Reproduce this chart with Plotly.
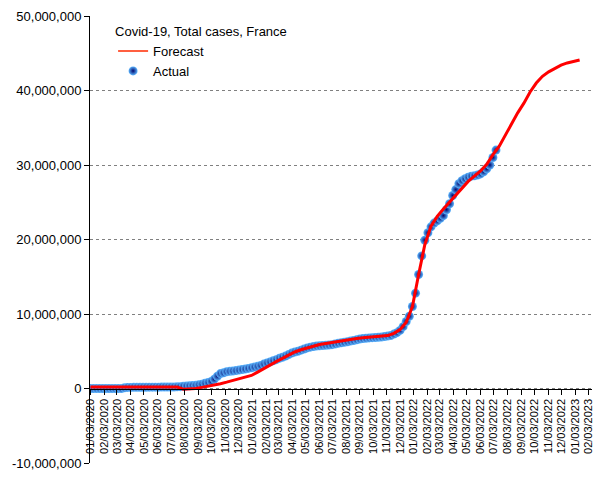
import pandas as pd
import plotly.graph_objects as go

# ---- data (millions of cases) ----
actual_start = "2020-01-03"
actual_millions = [
    0, 0, 0, 0, 0, 0, 0, 0, 0, 0, 0,
    0.1,
    0.15, 0.15, 0.16, 0.16, 0.17, 0.17, 0.17, 0.18, 0.18, 0.18, 0.18, 0.19, 0.19, 0.19, 0.2, 0.2, 0.22,
    0.25, 0.3, 0.33, 0.37, 0.4, 0.42, 0.5, 0.57, 0.7, 0.8, 0.95, 1.25, 1.65, 2.0, 2.1, 2.25, 2.3, 2.35,
    2.4, 2.47, 2.55, 2.62, 2.7, 2.78, 2.88, 2.97, 3.1, 3.28, 3.43, 3.57, 3.72, 3.87, 4.05, 4.2, 4.35,
    4.55, 4.75, 4.9, 5.0, 5.15, 5.3, 5.45, 5.55, 5.63, 5.7, 5.74, 5.77, 5.8, 5.84, 5.88, 5.97, 6.06,
    6.13, 6.2, 6.28, 6.36, 6.45, 6.55, 6.64, 6.7, 6.75, 6.79, 6.82, 6.85, 6.88, 6.92, 6.98, 7.05, 7.12,
    7.3, 7.5, 7.8, 8.3, 9.0, 9.7, 11.0, 12.8, 15.3, 17.8, 19.9, 20.9, 21.7, 22.2, 22.5, 22.85, 23.2,
    24.0, 24.8, 25.9, 26.7, 27.5, 27.9, 28.15, 28.35, 28.5, 28.55, 28.65, 28.8, 29.1, 29.5, 30.0,
    31.0, 32.0,
]

forecast_start = "2020-01-03"
forecast_millions = [
    0.2, 0.2, 0.2, 0.2, 0.2, 0.2, 0.2, 0.2, 0.2, 0.2, 0.2, 0.2, 0.2, 0.2, 0.2,
    -0.1, -0.1, 0.0, 0.15, 0.3, 0.5, 0.65, 0.85, 1.05, 1.25, 1.45, 1.75, 2.2, 2.7, 3.15,
    3.6, 4.05, 4.5, 4.9, 5.2, 5.45, 5.7, 5.9, 6.05, 6.2, 6.35, 6.5, 6.6, 6.7, 6.8,
    6.9, 6.95, 7.0, 7.1, 7.4, 7.9, 8.9, 11.0, 15.3, 19.3, 21.8, 23.1, 24.1, 25.0, 26.0,
    26.9, 27.8, 28.5, 29.2, 30.1, 31.4, 32.5, 34.0, 35.6, 37.0, 38.3, 39.8, 41.0, 41.9, 42.5,
    43.0, 43.4, 43.7, 43.9, 44.1,
]

x_tick_dates = pd.date_range("2020-01-01", "2023-02-01", freq="MS") + pd.Timedelta(days=2)
x_tick_text = [d.strftime("%m/%d/%Y") for d in x_tick_dates]

y_tick_vals = [-10000000, 0, 10000000, 20000000, 30000000, 40000000, 50000000]
y_tick_text = ["-10,000,000", "0", "10,000,000", "20,000,000", "30,000,000", "40,000,000", "50,000,000"]

legend_title = "Covid-19, Total cases, France"

# ---- build ----
actual_dates = pd.date_range(actual_start, periods=len(actual_millions), freq="7D")
forecast_dates = pd.date_range(forecast_start, periods=len(forecast_millions), freq="14D")

marker_style = dict(size=9, color="#5cb6ff", line=dict(width=0),
                    gradient=dict(type="radial", color="#00066e"))

fig = go.Figure()
fig.add_trace(go.Scatter(
    x=actual_dates, y=[v * 1e6 for v in actual_millions],
    mode="markers", name="Actual", showlegend=False,
    marker=marker_style,
))
fig.add_trace(go.Scatter(
    x=forecast_dates, y=[v * 1e6 for v in forecast_millions],
    mode="lines", name="Forecast", showlegend=False,
    line=dict(color="#ff0000", width=3),
))
# legend entries
fig.add_trace(go.Scatter(
    x=[None], y=[None], mode="lines", name="Forecast", legendrank=1,
    line=dict(color="#ff2a00", width=1.5),
))
fig.add_trace(go.Scatter(
    x=[None], y=[None], mode="markers", name="Actual", legendrank=2,
    marker=marker_style,
))

font_family = "Liberation Sans, Arial, sans-serif"
# page body has an 8px default margin, so the figure is offset by 8px
fig.update_layout(
    width=597, height=472,
    margin=dict(l=82, r=13, t=8, b=17),
    plot_bgcolor="white", paper_bgcolor="white",
    font=dict(family=font_family, size=13, color="#000000"),
    showlegend=True,
    legend=dict(
        x=0.046, y=0.993, xanchor="left", yanchor="top",
        bgcolor="rgba(0,0,0,0)",
        title=dict(text=legend_title, font=dict(size=13, color="#000000")),
        font=dict(size=13, color="#000000"),
        tracegroupgap=0, itemwidth=30,
    ),
    xaxis=dict(
        type="date",
        range=["2020-01-02", "2023-02-10"],
        anchor="free", position=1/6, automargin=False,
        showgrid=False, zeroline=False,
        showline=True, linecolor="#000000", linewidth=1,
        ticks="outside", ticklen=5, tickcolor="#000000",
        tickvals=list(x_tick_dates), ticktext=x_tick_text,
        tickangle=-90, tickfont=dict(size=11, color="#000000"),
    ),
    yaxis=dict(
        range=[-10000000, 50000000], automargin=False,
        tickvals=y_tick_vals, ticktext=y_tick_text,
        showgrid=True, gridcolor="#808080", griddash="dot", gridwidth=1,
        zeroline=False,
        showline=True, linecolor="#000000", linewidth=1,
        ticks="outside", ticklen=5, tickcolor="#000000",
        tickfont=dict(size=13, color="#000000"),
    ),
)

fig.write_html("out.html")
